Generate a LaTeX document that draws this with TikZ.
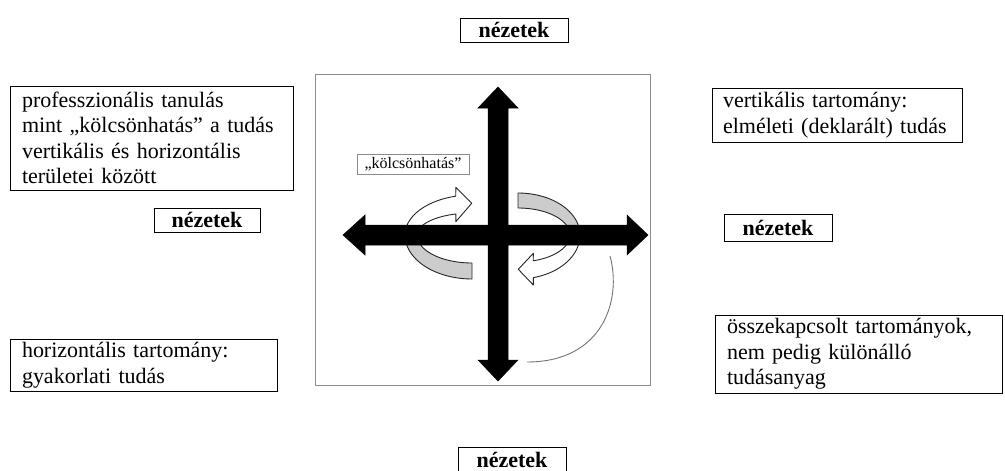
\documentclass[tikz,border=0pt]{standalone}
\usepackage{fontspec}
\setmainfont{Liberation Serif}
\begin{document}
\begin{tikzpicture}[x=1pt,y=-1pt,
  txtbox/.style={draw=black, line width=1pt, align=left, inner ysep=0pt,
    font=\fontsize{22}{25.5}\selectfont},
  viewbox/.style={draw=black, line width=1pt, inner sep=0pt,
    font=\fontsize{22}{26}\selectfont\bfseries},
  lblbox/.style={draw=black!45, line width=0.8pt, inner sep=0pt,
    minimum width=112pt, minimum height=20pt, font=\fontsize{16}{18}\selectfont},
  band/.style={draw=black!85, line width=0.9pt, line join=round},
  bigarrow/.style={fill=black, draw=black, line width=0.5pt, line join=miter},
  thinarc/.style={draw=black!55, line width=0.9pt}]
\useasboundingbox (0,0) rectangle (1005,471);

% frame
\node[draw=black!45, line width=0.8pt, minimum width=335pt, minimum height=311pt, inner sep=0pt] (frame) at (482.5,229.5) {};

% text boxes
\node[txtbox, text width=259pt, inner xsep=12pt, minimum height=104pt] (prof) at (151.5,138)
  {professzionális tanulás\\mint „kölcsönhatás” a tudás\\vertikális és horizontális\\területei között};
\node[txtbox, text width=228pt, inner xsep=11pt, minimum height=54pt] (vert) at (837,115)
  {vertikális tartomány:\\elméleti (deklarált) tudás};
\node[txtbox, text width=243pt, inner xsep=12pt, minimum height=52pt] (horiz) at (143.5,365)
  {horizontális tartomány:\\gyakorlati tudás};
\node[txtbox, text width=263pt, inner xsep=12pt, minimum height=78pt] (ossz) at (858.5,354)
  {összekapcsolt tartományok,\\nem pedig különálló\\tudásanyag};

% view boxes
\node[viewbox, minimum width=108pt, minimum height=24pt] (ntop) at (514,30) {nézetek};
\node[viewbox, minimum width=106pt, minimum height=24pt] (nleft) at (207,220) {nézetek};
\node[viewbox, minimum width=108pt, minimum height=27pt] (nright) at (778,228) {nézetek};
\node[viewbox, minimum width=108pt, minimum height=26pt] (nbottom) at (512,460) {nézetek};

% label
\node[lblbox] (kolcs) at (413,164) {„kölcsönhatás”};

% left ring: upper white part with head
\draw[band, fill=white]
  plot[domain=104:180, samples=30] ({472+67*cos(\x)},{235-40*sin(\x)})
  -- plot[domain=180:107, samples=30] ({472+55*cos(\x)},{235-22*sin(\x)})
  -- (455.8,221.7) -- (471.7,203.3) -- (455.8,187.3) -- cycle;
% left ring: lower gray part
\draw[band, fill=black!20]
  plot[domain=180:270, samples=30] ({472+67*cos(\x)},{235-44*sin(\x)})
  -- plot[domain=270:180, samples=30] ({472+55*cos(\x)},{235-28*sin(\x)})
  -- cycle;

% right ring: upper gray part
\draw[band, fill=black!20]
  plot[domain=90:0, samples=30] ({518+62*cos(\x)},{235-42*sin(\x)})
  -- plot[domain=0:90, samples=30] ({518+52*cos(\x)},{235-27*sin(\x)})
  -- cycle;
% right ring: lower white part with head
\draw[band, fill=white]
  plot[domain=0:-75.7, samples=30] ({518+62*cos(\x)},{235-44*sin(\x)})
  -- (533.3,285) -- (518.3,269.3) -- (533.3,253.3)
  -- plot[domain=-72.9:0, samples=30] ({518+52*cos(\x)},{235-27*sin(\x)})
  -- cycle;

% cross arrows
\draw[bigarrow] (365,225) -- (365,215) -- (343,235) -- (365,255) -- (365,245)
  -- (627,245) -- (627,255) -- (648,235) -- (627,215) -- (627,225) -- cycle;
\draw[bigarrow] (488,108) -- (478,108) -- (498,87) -- (518,108) -- (508,108)
  -- (508,360) -- (518,360) -- (498,381) -- (478,360) -- (488,360) -- cycle;

% thin arc
\coordinate (arcA) at (610,256);
\coordinate (arcB) at (527,362);
\draw[thinarc] (arcA) .. controls (622,300) and (603,362) .. (arcB);
\end{tikzpicture}
\end{document}
